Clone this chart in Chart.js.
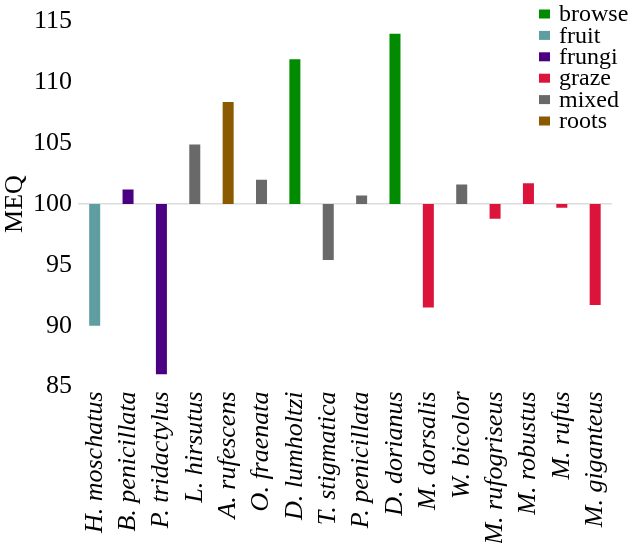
<!DOCTYPE html>
<html>
<head>
<meta charset="utf-8">
<script src="https://cdn.jsdelivr.net/npm/chart.js@4/dist/chart.umd.min.js"></script>
<style>
html,body{margin:0;padding:0;background:#fff;}
#c{display:block;}
</style>
</head>
<body>
<canvas id="c" width="632" height="543"></canvas>
<script>
const categories = ['H. moschatus','B. penicillata','P. tridactylus','L. hirsutus','A. rufescens','O. fraenata','D. lumholtzi','T. stigmatica','P. penicillata','D. dorianus','M. dorsalis','W. bicolor','M. rufogriseus','M. robustus','M. rufus','M. giganteus'];
const meq = [90.0, 101.2, 86.0, 104.9, 108.4, 102.0, 111.9, 95.4, 100.7, 114.0, 91.5, 101.6, 98.8, 101.7, 99.7, 91.7];
const diet = ['fruit','frungi','frungi','mixed','roots','mixed','browse','mixed','mixed','browse','graze','mixed','graze','graze','graze','graze'];
const groups = ['browse','fruit','frungi','graze','mixed','roots'];
const groupColors = ['#008B00','#5F9EA0','#4B0082','#DC143C','#696969','#8B5A00'];
const baseline = 100;
const yTicks = [85, 90, 95, 100, 105, 110, 115];

const FONT = '"Liberation Serif", "DejaVu Serif", serif';

const datasets = groups.map((g, gi) => ({
  label: g,
  data: meq.map((v, i) => diet[i] === g ? [baseline, v] : null),
  backgroundColor: groupColors[gi],
  borderWidth: 0,
  grouped: false,
  barPercentage: 0.33,
  categoryPercentage: 1.0
}));

const legendPlugin = {
  id: 'customLegend',
  afterDraw(chart) {
    const ctx = chart.ctx;
    ctx.save();
    ctx.font = '24px ' + FONT;
    ctx.textBaseline = 'middle';
    ctx.textAlign = 'left';
    chart.data.datasets.forEach((ds, i) => {
      const cy = 14 + i * 21.4;
      ctx.fillStyle = ds.backgroundColor;
      ctx.fillRect(539, cy - 4.5, 11, 9);
      ctx.fillStyle = '#000';
      ctx.fillText(ds.label, 559, cy + 1);
    });
    ctx.restore();
  }
};

new Chart(document.getElementById('c'), {
  type: 'bar',
  data: { labels: categories, datasets },
  options: {
    responsive: false,
    animation: false,
    layout: { padding: { top: 0, right: 20, left: 0, bottom: 0 } },
    plugins: { legend: { display: false }, tooltip: { enabled: false } },
    scales: {
      x: {
        grid: { display: false, drawTicks: false },
        border: { display: false },
        ticks: {
          color: '#000',
          font: { family: FONT, size: 26, style: 'italic' },
          maxRotation: 90, minRotation: 90, autoSkip: false, padding: 5
        },
        afterFit(s) { s.height = 156.5; }
      },
      y: {
        min: 85, max: 115,
        afterBuildTicks(s) { s.ticks = yTicks.map(v => ({ value: v })); },
        grid: {
          drawTicks: false,
          color: c => (c.tick && c.tick.value === baseline) ? '#dcdcdc' : 'rgba(0,0,0,0)',
          lineWidth: 1.5
        },
        border: { display: false },
        ticks: {
          color: '#000',
          font: { family: FONT, size: 26 },
          padding: 6
        },
        title: {
          display: true, text: 'MEQ', color: '#000',
          font: { family: FONT, size: 26 }, padding: { top: 0, bottom: 0 }
        },
        afterFit(s) { s.width = 78; }
      }
    }
  },
  plugins: [legendPlugin]
});
</script>
</body>
</html>
